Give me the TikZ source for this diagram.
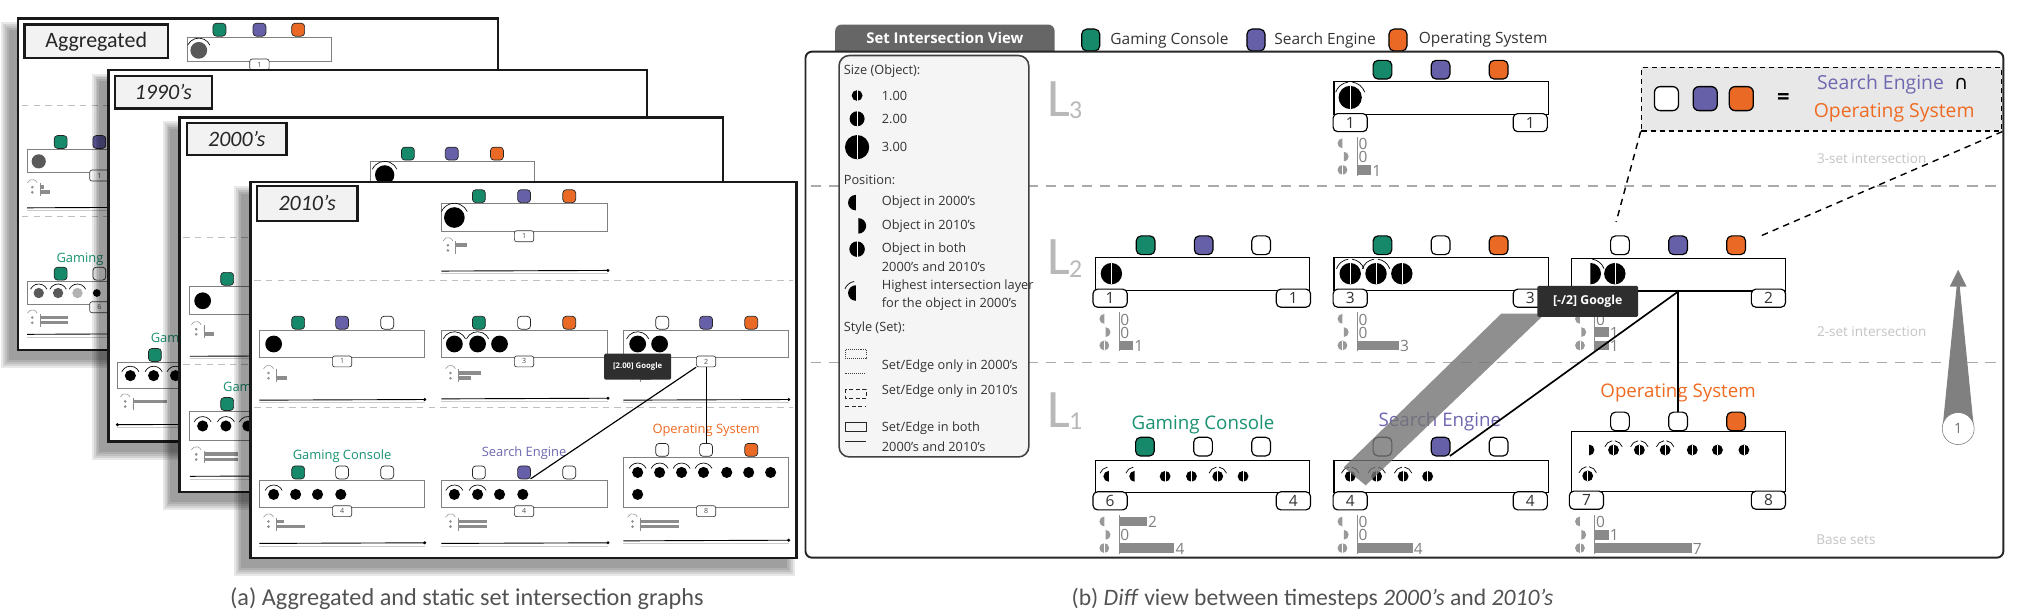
\documentclass[tikz,border=0pt]{standalone}
\usepackage{fontspec}
\setmainfont{Open Sans}
\newfontfamily\capfont{Carlito}
\newfontfamily\symfont{DejaVu Sans}
\usetikzlibrary{calc}
\definecolor{gc}{HTML}{16896A}
\definecolor{se}{HTML}{6660A8}
\definecolor{os}{HTML}{EA6A25}
\definecolor{gct}{HTML}{1A9272}
\definecolor{set}{HTML}{6E68B0}
\definecolor{ost}{HTML}{F06B22}
\definecolor{txt}{HTML}{333333}
\definecolor{barc}{HTML}{8A8A8A}
\definecolor{tabc}{HTML}{666666}
\definecolor{gridc}{HTML}{AAAAAA}
\definecolor{faint}{HTML}{C4C4C4}

\newcommand\fsz[1]{\fontsize{#1}{#1}\selectfont}
\newcommand\ObjF[3]{\fill (#1,#2) circle (#3pt); \draw[white,line width=0.45pt] (#1,#2-#3) -- (#1,#2+#3);}
\newcommand\ObjL[3]{\fill (#1,#2-#3) arc (270:90:#3) -- cycle;}
\newcommand\ObjR[3]{\fill (#1,#2-#3) arc (-90:90:#3) -- cycle;}
\newcommand\HlB[3]{\draw[line width=0.55pt] (#1,#2) ++(200:#3+3) arc (200:262:#3+3); \draw[line width=0.55pt] (#1,#2) ++(278:#3+3) arc (278:340:#3+3);}
\newcommand\HlL[3]{\draw[line width=0.55pt] (#1,#2) ++(200:#3+3) arc (200:262:#3+3);}
\newcommand\HlR[3]{\draw[line width=0.55pt] (#1,#2) ++(278:#3+3) arc (278:340:#3+3);}
\newcommand\HlS[3]{\draw[line width=0.5pt] (#1,#2) ++(205:#3+3) arc (205:335:#3+3);}
\newcommand\MRow[3]{\ifnum#3>0 \fill[barc] (#1,#2-3.8) rectangle ({#1+10.7*#3},#2+3.8);\fi
  \node[mnum] at ({#1+10.7*#3},#2+0.5) {#3};}
\newcommand\MChart[5]{%
  \begin{scope}[black!40]
  \ObjL{#1}{#2}{3.8}
  \ObjR{#1+1}{#2+10.3}{3.8}
  \ObjF{#1}{#2+20.6}{3.8}
  \end{scope}
  \draw[black!45, line width=0.7pt] (#1+11.5,#2-5) -- (#1+11.5,#2+25);
  \MRow{#1+11.5}{#2}{#3}
  \MRow{#1+11.5}{#2+10.3}{#4}
  \MRow{#1+11.5}{#2+20.6}{#5}}
\newcommand\SMC[4]{%
  \draw[black!45, line width=0.4pt] (#1,#2+1) ++(200:4) arc (200:340:4);
  \fill[black!45] (#1,#2+3) circle (1.1pt) (#1,#2+7) circle (1.1pt);
  \draw[black!45, line width=0.4pt] (#1+6,#2) -- (#1+6,#2+10);
  \fill[black!45] (#1+6,#2+1.5) rectangle (#1+6+#3,#2+4.2);
  \fill[black!45] (#1+6,#2+5.5) rectangle (#1+6+#4,#2+8.2);}
\newcommand\SLine[3]{\draw[black!20, line width=0.6pt] (#1,#3+2) -- (#2,#3+2);
  \draw[black, line width=0.7pt] (#1,#3) -- (#2,#3-0.5); \fill (#2,#3-0.5) circle (1.3pt);}
\newcommand\CShadow[4]{\foreach \e in {0,1.5,3,4.5,6}{\fill[black,opacity=0.09] (#1-7-\e,#2+9-\e) rectangle (#3-7+\e,#4+8+\e);}}

\begin{document}
\begin{tikzpicture}[x=1pt,y=-1pt,
  sq/.style={draw=black, line width=0.9pt, rounded corners=3.8pt, minimum width=14.5pt, minimum height=14.5pt, inner sep=0pt, outer sep=0pt},
  lsq/.style={draw=black, line width=0.9pt, rounded corners=4pt, minimum width=14pt, minimum height=17pt, inner sep=0pt},
  dsq/.style={draw=black, line width=1pt, rounded corners=4.5pt, minimum width=18.6pt, minimum height=18.6pt, inner sep=0pt},
  ssq/.style={draw=black!85, line width=0.55pt, rounded corners=2.6pt, minimum width=10pt, minimum height=10pt, inner sep=0pt, outer sep=0pt},
  badge/.style={draw=black, line width=0.9pt, fill=white, rounded corners=3.5pt, minimum width=26.5pt, minimum height=14pt, inner sep=0pt, font=\fsz{12}, text=black!80},
  sbadge/.style={draw=black!80, line width=0.5pt, fill=white, rounded corners=1.8pt, minimum width=15pt, minimum height=8.5pt, inner sep=0pt, font=\fsz{5.5}, text=black!70},
  setbox/.style={draw=black, line width=0.9pt, fill=white, inner sep=0pt, anchor=north west},
  ssetbox/.style={draw=black!50, line width=0.8pt, fill=white},
  grid/.style={draw=gridc, line width=1pt, dash pattern=on 8pt off 6pt},
  sgrid/.style={draw=black!25, line width=0.7pt, dash pattern=on 5pt off 4pt},
  card/.style={draw=black!90, line width=1.7pt, fill=white},
  cardlabel/.style={draw=black!90, line width=1.7pt, fill=black!5, inner sep=0pt, font=\capfont\fsz{17}, text=black!85},
  lt/.style={anchor=west, font=\fsz{9.9}, text=txt, inner sep=0pt},
  mnum/.style={anchor=west, font=\fsz{12}, text=black!50, inner sep=0.8pt},
  conn/.style={draw=black, line width=1.3pt},
  sconn/.style={draw=black, line width=0.9pt},
  flab/.style={font=\fsz{10.5}, text=faint},
  llab/.style={font=\capfont\fsz{42}, text=black!28, inner sep=0pt, anchor=base west},
  lsub/.style={font=\capfont\fsz{20}, text=black!28, inner sep=0pt, anchor=base west},
  tip/.style={fill=black!82, text=white, font=\bfseries\fsz{9.5}, inner sep=0pt, rounded corners=1pt},
  captext/.style={font=\capfont\fsz{18.8}, text=black!68, anchor=base west, inner sep=0pt},
  slab/.style={font=\fsz{10}},
]
\useasboundingbox (0,0) rectangle (1568,477);

% ================= (a) stacked cards =================
% --- Aggregated ---
\CShadow{14}{14.4}{386}{271}
\draw[card] (14,14.4) rectangle (386,271);
\node[cardlabel, minimum width=111pt, minimum height=26pt] (lab-agg) at (74.5,32) {Aggregated};
\node[ssq, fill=gc] (a-t1) at (170,23) {};
\node[ssq, fill=se] (a-t2) at (201,23) {};
\node[ssq, fill=os] (a-t3) at (231,23) {};
\draw[ssetbox] (145,29) rectangle (257,48);
\fill[black!65] (154,39) circle (6.5pt); \HlS{154}{39}{6.5}
\node[sbadge] (a-b1) at (201,50) {1};
\draw[sgrid] (17,82) -- (384,82);
\draw[sgrid] (17,168) -- (384,168);
\node[ssq, fill=gc] (a-m1) at (47,110) {};
\node[ssq, fill=se] (a-m2) at (77,110) {};
\node[ssq, fill=white] (a-m3) at (107,110) {};
\draw[ssetbox] (21,116) rectangle (133,134);
\fill[black!65] (30,125) circle (5.5pt);
\node[sbadge] (a-b2) at (77,136) {1};
\SMC{25}{142}{3}{8}
\SLine{21}{133}{161}
\node[slab, text=gct] (a-gc) at (82,201) {Gaming Console};
\node[ssq, fill=gc] (a-l1) at (47,212) {};
\node[ssq, fill=white] (a-l2) at (77,212) {};
\node[ssq, fill=white] (a-l3) at (107,212) {};
\draw[ssetbox] (21,218) rectangle (133,236);
\fill[black!65] (30,227) circle (4pt) (45,227) circle (4pt);
\fill[black!30] (60,227) circle (4pt);
\fill (75,227) circle (3pt);
\HlS{30}{227}{4}\HlS{45}{227}{4}\HlS{60}{227}{4}
\node[sbadge] (a-b3) at (77,238) {6};
\SMC{25}{243}{22}{22}
\SLine{21}{133}{259}

% --- 1990's ---
\CShadow{84}{54}{501}{342}
\draw[card] (84,54) rectangle (501,342);
\node[cardlabel, minimum width=75pt, minimum height=25pt, font=\capfont\itshape\fsz{17}] (lab-90) at (126.5,71.5) {1990’s};
\node[slab, text=gct] (n-gc) at (155,263) {Gaming Console};
\node[ssq, fill=gc] (n-l1) at (120,275) {};
\node[ssq, fill=white] (n-l2) at (155,275) {};
\node[ssq, fill=white] (n-l3) at (190,275) {};
\draw[ssetbox] (91,281) rectangle (219,301);
\foreach \x in {101,119,136,154} {\fill (\x,291) circle (4.3pt);}
\foreach \x in {101,119,136} {\HlS{\x}{291}{4.3}}
\SMC{97}{308}{26}{0}
\SLine{91}{219}{329}
\fill (91,329) circle (1.3pt);

% --- 2000's ---
\CShadow{139}{91}{560}{381}
\draw[card] (139,91) rectangle (560,381);
\node[cardlabel, minimum width=77pt, minimum height=25pt, font=\capfont\itshape\fsz{17}] (lab-00) at (183.5,107.5) {2000’s};
\node[ssq, fill=gc] (z-t1) at (316,119) {};
\node[ssq, fill=se] (z-t2) at (350,119) {};
\node[ssq, fill=os] (z-t3) at (385,119) {};
\draw[ssetbox] (287,125) rectangle (414,146);
\fill (298,135.5) circle (7.5pt); \HlS{298}{135.5}{7.5}
\draw[sgrid] (142,184) -- (557,184);
\node[ssq, fill=gc] (z-m1) at (176,216) {};
\node[ssq, fill=se] (z-m2) at (210,216) {};
\node[ssq, fill=white] (z-m3) at (245,216) {};
\draw[ssetbox] (147,222) rectangle (275,244);
\fill (157,233) circle (6.5pt);
\node[sbadge] (z-b1) at (210,247) {1};
\SMC{152}{252}{0}{8}
\SLine{147}{275}{276}
\draw[sgrid] (142,282) -- (557,282);
\node[slab, text=gct] (z-gc) at (211,301) {Gaming Console};
\node[ssq, fill=gc] (z-l1) at (176,313) {};
\node[ssq, fill=white] (z-l2) at (210,313) {};
\node[ssq, fill=white] (z-l3) at (245,313) {};
\draw[ssetbox] (147,319) rectangle (275,341);
\foreach \x in {157,175,192,210} {\fill (\x,330) circle (4.3pt);}
\foreach \x in {157,175,192} {\HlS{\x}{330}{4.3}}
\node[sbadge] (z-b2) at (210,344) {4};
\SMC{152}{349}{26}{26}
\SLine{147}{275}{369}

% --- 2010's ---
\CShadow{194}{141}{617}{432}
\draw[card] (194,141) rectangle (617,432);
\node[cardlabel, minimum width=78pt, minimum height=27pt, font=\capfont\itshape\fsz{17}] (lab-10) at (238,157.5) {2010’s};
\node[ssq, fill=gc] (s-t1) at (371,152) {};
\node[ssq, fill=se] (s-t2) at (406,152) {};
\node[ssq, fill=os] (s-t3) at (441,152) {};
\draw[ssetbox] (342,158) rectangle (471,179);
\fill (352,168.5) circle (8pt); \HlS{352}{168.5}{8}
\node[sbadge] (s-tb) at (406,183) {1};
\SMC{347}{187}{9}{0}
\SLine{342}{471}{210}
\draw[sgrid] (197,217) -- (614,217);
% middle row
\node[ssq, fill=gc] (s-m11) at (231,250) {};
\node[ssq, fill=se] (s-m12) at (265,250) {};
\node[ssq, fill=white] (s-m13) at (300,250) {};
\node[ssq, fill=gc] (s-m21) at (371,250) {};
\node[ssq, fill=white] (s-m22) at (406,250) {};
\node[ssq, fill=os] (s-m23) at (441,250) {};
\node[ssq, fill=white] (s-m31) at (513,250) {};
\node[ssq, fill=se] (s-m32) at (547,250) {};
\node[ssq, fill=os] (s-m33) at (582,250) {};
\draw[ssetbox] (201,256) rectangle (329,277);
\draw[ssetbox] (342,256) rectangle (471,277);
\draw[ssetbox] (483,256) rectangle (611,277);
\fill (212,266.5) circle (6.5pt);
\fill (352,266.5) circle (6.5pt) (370,266.5) circle (6.5pt) (387,266.5) circle (6.5pt);
\HlS{352}{266.5}{6.5}\HlS{370}{266.5}{6.5}
\fill (494,266.5) circle (6.5pt) (511,266.5) circle (6.5pt);
\HlS{494}{266.5}{6.5}
\node[sbadge] (s-mb1) at (265,280) {1};
\node[sbadge] (s-mb2) at (406,280) {3};
\node[sbadge] (s-mb3) at (547,280) {2};
\SMC{208}{286}{0}{8}
\SMC{349}{286}{18}{10}
\SMC{490}{286}{0}{8}
\SLine{201}{329}{310}
\SLine{342}{471}{309}
\SLine{483}{611}{310}
\draw[sgrid] (197,316) -- (614,316);
% bottom row
\node[slab, text=gct] (s-lab1) at (265,353) {Gaming Console};
\node[slab, text=set] (s-lab2) at (406,351) {Search Engine};
\node[slab, text=ost] (s-lab3) at (547,333) {Operating System};
\node[ssq, fill=gc] (s-b11) at (231,366) {};
\node[ssq, fill=white] (s-b12) at (265,366) {};
\node[ssq, fill=white] (s-b13) at (300,366) {};
\node[ssq, fill=white] (s-b21) at (371,366) {};
\node[ssq, fill=se] (s-b22) at (406,366) {};
\node[ssq, fill=white] (s-b23) at (441,366) {};
\node[ssq, fill=white] (s-b31) at (513,348.5) {};
\node[ssq, fill=white] (s-b32) at (547,348.5) {};
\node[ssq, fill=os] (s-b33) at (582,348.5) {};
\draw[ssetbox] (201,372) rectangle (329,393);
\draw[ssetbox] (342,372) rectangle (471,393);
\draw[ssetbox] (483,354.5) rectangle (611,393);
\foreach \x in {212,229,246,264} {\fill (\x,383) circle (4.3pt);}
\HlS{212}{383}{4.3}
\foreach \x in {352,370,387,405} {\fill (\x,383) circle (4.3pt);}
\HlS{352}{383}{4.3}\HlS{370}{383}{4.3}
\foreach \x in {494,511,528,545,563,580,597} {\fill (\x,366) circle (4.3pt);}
\foreach \x in {494,511,528,545} {\HlS{\x}{366}{4.3}}
\fill (494,383) circle (4.3pt);
\node[sbadge] (s-bb1) at (265,396) {4};
\node[sbadge] (s-bb2) at (406,396) {4};
\node[sbadge] (s-bb3) at (547,396) {8};
\SMC{208}{401}{6}{22}
\SMC{349}{401}{22}{22}
\SMC{490}{401}{30}{30}
\SLine{201}{329}{421}
\SLine{342}{471}{421}
\SLine{483}{611}{419}
\draw[sconn] (s-mb3.south west) -- (s-b22.south east);
\draw[sconn] (s-mb3.south) -- (s-b32.north);
\node[tip, font=\bfseries\fsz{6}, minimum width=52pt, minimum height=20pt] (s-tip) at (494,284) {[2.00] Google};

% ================= (b) diff view =================
\fill[tabc, rounded corners=5pt] (647,19) rectangle (817,46);
\node[text=white, font=\bfseries\fsz{11.5}] (tab) at (732,29.5) {Set Intersection View};
\node[lsq, fill=gc] (lg-g) at (845,31) {};
\node[anchor=west, font=\fsz{12}, text=txt, inner sep=0] (lg-gt) at (860,31) {Gaming Console};
\node[lsq, fill=se] (lg-s) at (973,31) {};
\node[anchor=west, font=\fsz{12}, text=txt, inner sep=0] (lg-st) at (987,31) {Search Engine};
\node[lsq, fill=os] (lg-o) at (1083,31) {};
\node[anchor=west, font=\fsz{12}, text=txt, inner sep=0] (lg-ot) at (1099,31) {Operating System};
\draw[line width=1.5pt, draw=black!85, fill=white, rounded corners=5pt] (624,40) rectangle (1552,432);

\draw[grid] (628,144) -- (1546,144);
\draw[grid] (628,281) -- (1546,281);

% legend box
\draw[fill=black!4, draw=black!75, line width=1.2pt, rounded corners=8pt] (650,43) rectangle (797,354);
\node[lt] (k1) at (653.5,55) {Size (Object):};
\ObjF{664}{74}{4.2}
\node[lt] (k2) at (683,74) {1.00};
\ObjF{664}{92}{5.8}
\node[lt] (k3) at (683,92) {2.00};
\ObjF{664}{114}{9.4}
\node[lt] (k4) at (683,114) {3.00};
\node[lt] (k5) at (653.5,139) {Position:};
\ObjL{663}{157}{6}
\node[lt] (k6) at (683,157) {Object in 2000's};
\ObjR{665}{175}{6}
\node[lt] (k7) at (683,175) {Object in 2010's};
\ObjF{664}{193}{6}
\node[lt] (k8) at (683,193) {Object in both};
\node[lt] (k9) at (683,207) {2000's and 2010's};
\ObjL{663}{227}{6} \HlL{663}{227}{6}
\node[lt] (k10) at (683,221.5) {Highest intersection layer};
\node[lt] (k11) at (683,236) {for the object in 2000's};
\node[lt] (k12) at (653.5,254) {Style (Set):};
\draw[black!75, line width=0.6pt, dash pattern=on 0.8pt off 0.8pt] (655,271) rectangle (671,278);
\draw[black!75, line width=0.6pt, dash pattern=on 0.8pt off 0.8pt] (655,289) -- (671,289);
\node[lt] (k13) at (683,283.5) {Set/Edge only in 2000's};
\draw[black!85, line width=0.7pt, dash pattern=on 3pt off 2pt] (655,301.5) rectangle (671,308.5);
\draw[black!85, line width=0.7pt, dash pattern=on 3pt off 2pt] (655,315) -- (671,315);
\node[lt] (k14) at (683,303) {Set/Edge only in 2010's};
\draw[black!85, line width=0.7pt] (655,327.3) rectangle (671,334);
\draw[black!85, line width=0.7pt] (655,342) -- (671,342);
\node[lt] (k15) at (683,332) {Set/Edge in both};
\node[lt] (k16) at (683,346) {2000's and 2010's};

% layer labels
\node[llab] (L3) at (811,90) {L};
\node[lsub] (L3s) at (828,92) {3};
\node[llab] (L2) at (811,213) {L};
\node[lsub] (L2s) at (828,215) {2};
\node[llab] (L1) at (811,331) {L};
\node[lsub] (L1s) at (828,333) {1};
\node[flab] (g3) at (1450,123) {3-set intersection};
\node[flab] (g2) at (1450,257) {2-set intersection};
\node[flab] (g1) at (1430,418) {Base sets};

% progress arrow
\coordinate (tipA) at (1517,209);
\fill[black!50] (1505,330) -- (1516.4,216) -- (1517.6,216) -- (1529,330) -- cycle;
\fill[black!50] (1510.5,222) -- (tipA) -- (1523.5,222) -- cycle;
\node[draw=black!55, fill=white, circle, minimum size=24.8pt, inner sep=0pt, font=\fsz{11}, text=black!55] (prog) at (1517,332) {1};

% ---- L3 ----
\node[sq, fill=gc] (l3-1) at (1071,54) {};
\node[sq, fill=se] (l3-2) at (1116,54) {};
\node[sq, fill=os] (l3-3) at (1161,54) {};
\node[setbox, minimum width=166pt, minimum height=25pt] (l3) at (1033,63) {};
\ObjF{1046}{75.5}{9} \HlB{1046}{75.5}{9}
\node[badge] (l3-b1) at (1046,95) {1};
\node[badge] (l3-b2) at (1185.5,95) {1};
\MChart{1040}{111}{0}{0}{1}

% ---- L2 ----
\node[sq, fill=gc] (l2a-1) at (887.5,190) {};
\node[sq, fill=se] (l2a-2) at (932.5,190) {};
\node[sq, fill=white] (l2a-3) at (977,190) {};
\node[setbox, minimum width=166pt, minimum height=25.5pt] (l2a) at (848,199) {};
\ObjF{861}{212}{8.3}
\node[badge] (l2a-b1) at (860,231) {1};
\node[badge] (l2a-b2) at (1002,231) {1};
\MChart{855.5}{247}{0}{0}{1}

\node[sq, fill=gc] (l2b-1) at (1071,190) {};
\node[sq, fill=white] (l2b-2) at (1116,190) {};
\node[sq, fill=os] (l2b-3) at (1161,190) {};
\node[setbox, minimum width=166pt, minimum height=25.5pt] (l2b) at (1033,199) {};
\ObjF{1046}{212}{8.3} \ObjF{1066}{212}{8.3} \ObjF{1086}{212}{8.3}
\HlB{1046}{212}{8.3} \HlB{1066}{212}{8.3}
\node[badge] (l2b-b1) at (1046,231) {3};
\node[badge] (l2b-b2) at (1185.5,231) {3};
\MChart{1040}{247}{0}{0}{3}

\node[sq, fill=white] (l2c-1) at (1255,190) {};
\node[sq, fill=se] (l2c-2) at (1300,190) {};
\node[sq, fill=os] (l2c-3) at (1345,190) {};
\node[setbox, minimum width=165.5pt, minimum height=25.5pt] (l2c) at (1217,199.5) {};
\ObjR{1232}{212}{8.3} \HlR{1232}{212}{8.3}
\ObjF{1251}{212}{8.3}
\node[badge] (l2c-b1) at (1229,231) {1};
\node[badge] (l2c-b2) at (1370,231) {2};
\MChart{1224}{247}{0}{1}{1}

% ---- L1 ----
\node[font=\fsz{14.5}, text=gct] (l1a-lab) at (932,329) {Gaming Console};
\node[font=\fsz{14.5}, text=set] (l1b-lab) at (1115.5,327) {Search Engine};
\node[font=\fsz{14.5}, text=ost] (l1c-lab) at (1300,304.6) {Operating System};

\node[sq, fill=gc] (l1a-1) at (887,346) {};
\node[sq, fill=white] (l1a-2) at (932,346) {};
\node[sq, fill=white] (l1a-3) at (977,346) {};
\node[setbox, minimum width=166pt, minimum height=25pt] (l1a) at (848,356) {};
\ObjL{859}{369}{4.2} \HlL{859}{369}{4.2}
\ObjL{879}{369}{4.2} \HlL{879}{369}{4.2}
\ObjF{902.6}{369}{4.2} \ObjF{923}{369}{4.2} \ObjF{943.4}{369}{4.2} \ObjF{963}{369}{4.2}
\HlB{943.4}{369}{4.2}
\node[badge] (l1a-b1) at (860,388) {6};
\node[badge] (l1a-b2) at (1002,388) {4};
\MChart{855.5}{404}{2}{0}{4}

\node[sq, fill=white] (l1b-1) at (1071,346) {};
\node[sq, fill=se] (l1b-2) at (1116,346) {};
\node[sq, fill=white] (l1b-3) at (1161,346) {};
\node[setbox, minimum width=166pt, minimum height=25pt] (l1b) at (1033,356) {};
\ObjF{1046}{369}{4.2} \ObjF{1066.5}{369}{4.2} \ObjF{1087}{369}{4.2} \ObjF{1106}{369}{4.2}
\HlB{1046}{369}{4.2} \HlB{1066.5}{369}{4.2} \HlB{1087}{369}{4.2}
\node[badge] (l1b-b1) at (1046,388) {4};
\node[badge] (l1b-b2) at (1185.5,388) {4};
\MChart{1040}{404}{0}{0}{4}

\node[sq, fill=white] (l1c-1) at (1255,326.5) {};
\node[sq, fill=white] (l1c-2) at (1300,326.5) {};
\node[sq, fill=os] (l1c-3) at (1345,326.5) {};
\node[setbox, minimum width=165.5pt, minimum height=46.5pt] (l1c) at (1217,334) {};
\ObjR{1231}{348.6}{4.2}
\foreach \x in {1250,1270,1290,1311,1330.5,1351} {\ObjF{\x}{348.6}{4.2}}
\foreach \x in {1250,1270,1290} {\HlB{\x}{348.6}{4.2}}
\ObjF{1230}{368.7}{4.2} \HlB{1230}{368.7}{4.2}
\node[badge] (l1c-b1) at (1229,387.5) {7};
\node[badge] (l1c-b2) at (1370,387.5) {8};
\MChart{1224}{404}{0}{1}{7}

% connectors
\draw[conn] (l2c.south -| l1c-2.north) -- (l1c-2.north);
\draw[conn] (l2c.south -| l1c-2.north) -- (l1b-2.south east);

% highlight band
\fill[black!55, opacity=0.8] (1163,243) -- (1197,243) -- (1058,376) -- (1041,362) -- cycle;
\node[tip, minimum width=78pt, minimum height=24pt] (tipR) at (1230,233.5) {[-/2] Google};

% detail callout
\coordinate (dz1) at (1252,172);
\coordinate (dz2) at (1363.5,183);
\node[draw=black, fill=black!9, line width=1.3pt, dash pattern=on 4pt off 3pt, minimum width=279pt, minimum height=49pt, anchor=north west, inner sep=0pt] (detail) at (1271,51.6) {};
\draw[black, line width=1.1pt, dash pattern=on 5pt off 4pt] (detail.south west) -- (dz1);
\draw[black, line width=1.1pt, dash pattern=on 5pt off 4pt] (detail.south east) -- (dz2);
\node[dsq, fill=white] (d1) at (1291,76.4) {};
\node[dsq, fill=se] (d2) at (1321,76.4) {};
\node[dsq, fill=os] (d3) at (1349,76.4) {};
\node[font=\bfseries\fsz{17}] (deq) at (1381.5,77) {=};
\node[anchor=west, font=\fsz{15}, text=set, inner sep=0pt] (dse) at (1407.5,65.5) {Search Engine\hspace{8pt}{\symfont\color{black}∩}};
\node[anchor=west, font=\fsz{15}, text=ost, inner sep=0pt] (dos) at (1405,87.5) {Operating System};

% captions
\node[captext] (capa) at (178,469) {(a) Aggregated and static set intersection graphs};
\node[captext, font=\capfont\fsz{18.3}] (capb) at (830,469) {(b) \textit{Diff} view between timesteps \textit{2000’s} and \textit{2010’s}};
\end{tikzpicture}
\end{document}
